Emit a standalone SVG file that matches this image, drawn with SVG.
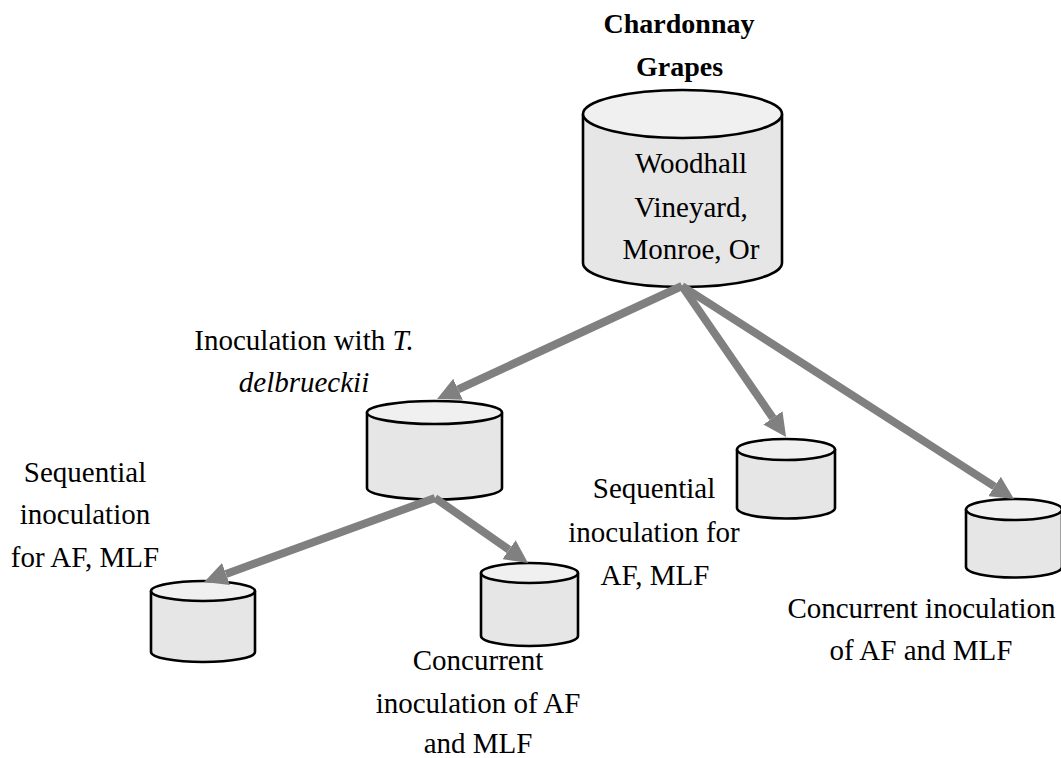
<svg xmlns="http://www.w3.org/2000/svg" width="1061" height="758" viewBox="0 0 1061 758">
<style>
.body{fill:#e6e6e6;stroke:#000;stroke-width:2.6}
.top{fill:#f0f0f0;stroke:#000;stroke-width:2.6}
.lbl{font-family:"Liberation Serif","Times New Roman",serif;font-size:29px;fill:#000;text-anchor:middle}
.bold{font-weight:bold;font-size:28px}
.it{font-style:italic}
.conn{stroke:#808080;stroke-width:8;fill:none;marker-end:url(#ah)}
</style>
<defs>
<marker id="ah" viewBox="0 0 10 10" refX="0" refY="5" markerWidth="2.9" markerHeight="2.9" orient="auto" markerUnits="strokeWidth">
<path d="M0,0 L10,5 L0,10 z" fill="#808080"/>
</marker>
</defs>
<rect width="1061" height="758" fill="#fff"/>

<g id="title">
<text class="lbl bold" x="679" y="33">Chardonnay</text>
<text class="lbl bold" x="679.5" y="76">Grapes</text>
</g>

<g id="grapes">
<path class="body" d="M583,114 L583,263 A99.5,24 0 0 0 782,263 L782,114"/>
<ellipse class="top" cx="682.5" cy="114" rx="99.5" ry="24"/>
<text class="lbl" x="691" y="173">Woodhall</text>
<text class="lbl" x="691" y="217">Vineyard,</text>
<text class="lbl" x="691" y="259">Monroe, Or</text>
</g>

<g id="tdel">
<path class="body" d="M367,412.5 L367,488 A67.5,11.5 0 0 0 502,488 L502,412.5"/>
<ellipse class="top" cx="434.5" cy="412.5" rx="67.5" ry="11.5"/>
<text class="lbl" x="304" y="350">Inoculation with <tspan class="it">T.</tspan></text>
<text class="lbl it" x="304" y="392">delbrueckii</text>
</g>

<g id="tdel-seq">
<path class="body" d="M151,591 L151,652 A52,10 0 0 0 255,652 L255,591"/>
<ellipse class="top" cx="203" cy="591" rx="52" ry="10"/>
<text class="lbl" x="85" y="482">Sequential</text>
<text class="lbl" x="85" y="524">inoculation</text>
<text class="lbl" x="85" y="567">for AF, MLF</text>
</g>

<g id="tdel-con">
<path class="body" d="M481,573 L481,636 A48.5,10 0 0 0 578,636 L578,573"/>
<ellipse class="top" cx="529.5" cy="573" rx="48.5" ry="10"/>
<text class="lbl" x="478" y="670">Concurrent</text>
<text class="lbl" x="478" y="713">inoculation of AF</text>
<text class="lbl" x="478" y="753">and MLF</text>
</g>

<g id="seq">
<path class="body" d="M737,449.5 L737,508 A49,10.5 0 0 0 835,508 L835,449.5"/>
<ellipse class="top" cx="786" cy="449.5" rx="49" ry="10.5"/>
<text class="lbl" x="654" y="498">Sequential</text>
<text class="lbl" x="654" y="542">inoculation for</text>
<text class="lbl" x="655" y="585">AF, MLF</text>
</g>

<g id="con">
<path class="body" d="M966,509.5 L966,567 A48,10.5 0 0 0 1062,567 L1062,509.5"/>
<ellipse class="top" cx="1014" cy="509.5" rx="48" ry="10.5"/>
<text class="lbl" x="921.5" y="618">Concurrent inoculation</text>
<text class="lbl" x="921" y="660">of AF and MLF</text>
</g>

<g id="connectors">
<line class="conn" x1="682" y1="286" x2="458.1" y2="389.3"/>
<line class="conn" x1="682" y1="286" x2="772.9" y2="417.9"/>
<line class="conn" x1="682" y1="286" x2="994.5" y2="486.5"/>
<line class="conn" x1="435" y1="498" x2="226" y2="574"/>
<line class="conn" x1="435" y1="498" x2="509" y2="549.7"/>
</g>
</svg>
